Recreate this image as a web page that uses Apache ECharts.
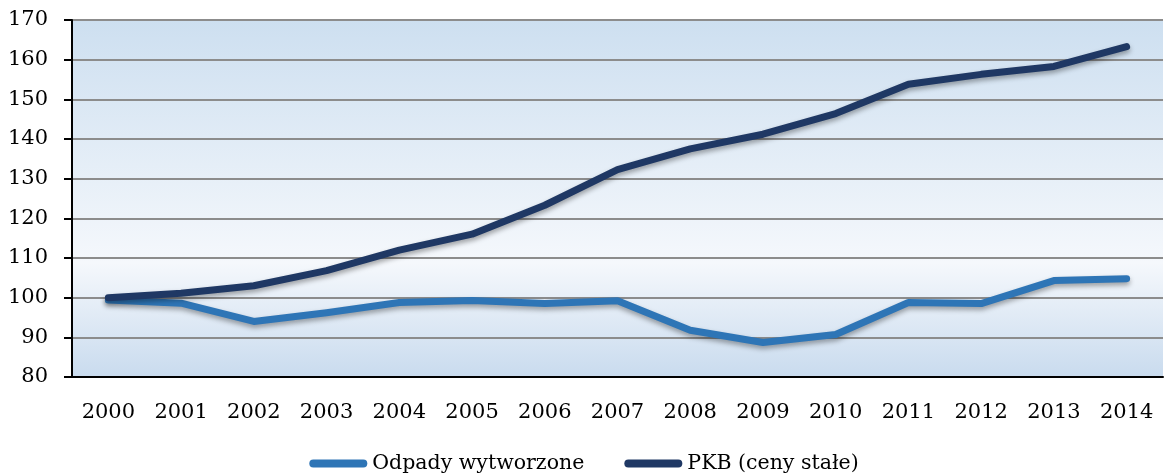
<!DOCTYPE html>
<html>
<head>
    <meta charset="utf-8">
    <title>Odpady a PKB</title>
    <script src="https://cdn.jsdelivr.net/npm/echarts/dist/echarts.min.js"></script>
    <style>
        html, body { margin: 0; padding: 0; background: #fff; }
    </style>
</head>
<body>
    <div id="main" style="width: 1168px;height:473px;"></div>
    <script>
        // dane (2000 = 100)
        var lata = ['2000','2001','2002','2003','2004','2005','2006','2007','2008','2009','2010','2011','2012','2013','2014'];
        var odpady = [99.4, 98.6, 94.0, 96.2, 98.8, 99.3, 98.5, 99.2, 91.8, 88.7, 90.7, 98.8, 98.5, 104.3, 104.8];
        var pkb = [100, 101.1, 103.0, 106.8, 112.0, 116.0, 123.3, 132.3, 137.5, 141.2, 146.4, 153.8, 156.3, 158.3, 163.3];
        var nazwy = ['Odpady wytworzone', 'PKB (ceny stałe)'];

        var myChart = echarts.init(document.getElementById('main'));
        var font = 'DejaVu Serif';
        var pill = 'path://M4,0 L54,0 A4,4 0 0 1 54,8 L4,8 A4,4 0 0 1 4,0 Z';

        var option = {
            animation: false,
            textStyle: { fontFamily: font },
            grid: {
                left: 72, right: 5, top: 20, bottom: 96,
                show: true,
                borderWidth: 0,
                backgroundColor: {
                    type: 'linear', x: 0, y: 0, x2: 0, y2: 1,
                    colorStops: [
                        { offset: 0, color: '#cddff0' },
                        { offset: 0.68, color: '#f5f8fc' },
                        { offset: 1, color: '#c9dbee' }
                    ]
                }
            },
            legend: {
                bottom: -6,
                left: 'center',
                itemGap: 40,
                itemWidth: 58,
                itemHeight: 8,
                icon: pill,
                data: nazwy,
                textStyle: { fontFamily: font, fontSize: 20.5, color: '#000' }
            },
            xAxis: {
                type: 'category',
                data: lata,
                boundaryGap: true,
                axisLine: { lineStyle: { color: '#000', width: 2 } },
                axisTick: { length: 8, interval: 0, lineStyle: { color: '#000', width: 2 } },
                axisLabel: { fontFamily: font, fontSize: 21, color: '#000', margin: 25, interval: 0 }
            },
            yAxis: {
                type: 'value',
                min: 80, max: 170, interval: 10,
                axisLine: { show: true, lineStyle: { color: '#000', width: 2 } },
                axisTick: { show: true, length: 8, lineStyle: { color: '#000', width: 2 } },
                axisLabel: { fontFamily: font, fontSize: 21, color: '#000', margin: 24 },
                splitLine: { lineStyle: { color: '#8c8c8c', width: 2 } }
            },
            series: [
                {
                    name: nazwy[0],
                    type: 'line',
                    data: odpady,
                    symbol: 'none',
                    color: '#2e75b6',
                    lineStyle: {
                        width: 7, color: '#2e75b6', cap: 'round', join: 'round',
                        shadowColor: 'rgba(0,0,0,0.35)', shadowBlur: 5, shadowOffsetY: 3
                    }
                },
                {
                    name: nazwy[1],
                    type: 'line',
                    data: pkb,
                    symbol: 'none',
                    color: '#1f3864',
                    lineStyle: {
                        width: 7, color: '#1f3864', cap: 'round', join: 'round',
                        shadowColor: 'rgba(0,0,0,0.35)', shadowBlur: 5, shadowOffsetY: 3
                    }
                }
            ]
        };

        myChart.setOption(option);
    </script>
</body>
</html>
